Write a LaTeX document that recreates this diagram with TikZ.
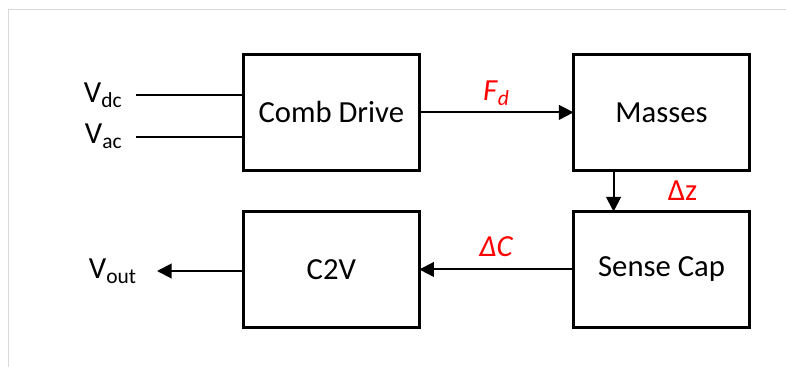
\documentclass[tikz,border=0pt]{standalone}
\usepackage{fontspec}
\setmainfont{Carlito}
\usetikzlibrary{arrows.meta,positioning}

\begin{document}
\begin{tikzpicture}[
    x=0.75pt, y=-0.75pt,
    node distance=115.7pt,
    box/.style={rectangle, draw, line width=2.4pt, minimum width=132pt, minimum height=86.8pt, outer sep=0pt, font=\fontsize{23}{27}\selectfont},
    sig/.style={inner xsep=10pt, inner ysep=0pt, font=\fontsize{23}{27}\selectfont},
    lbl/.style={text=red, inner sep=0pt, font=\fontsize{23}{27}\selectfont},
    wire/.style={line width=1.5pt},
    arrow/.style={-{Triangle[length=11pt, width=11pt]}, line width=1.5pt},
]
    \useasboundingbox (0,0) rectangle (786,367);
    \draw[black!15, line width=0.75pt] (8,367) -- (8,9.5) -- (786,9.5);

    \node[box] (CD) at (331.3,112.4) {Comb Drive};
    \node[box, right=of CD] (M) {Masses};
    \node[box, below=31pt of M] (S) {Sense Cap};
    \node[box, left=of S] (C) {C2V};

    \node[sig, anchor=east] (vdc) at (136,95) {V\textsubscript{dc}};
    \node[sig, anchor=east] (vac) at (136,136.7) {V\textsubscript{ac}};
    \node[sig, anchor=east, inner xsep=15pt] (vout) at (157,271) {V\textsubscript{out}};

    \draw[wire] (vdc.east) -- (vdc.east -| CD.west);
    \draw[wire] (vac.east) -- (vac.east -| CD.west);
    \draw[arrow] (CD) -- node[lbl, above=4pt] {\textit{F}\textsubscript{\textit{d}}} (M);
    \draw[arrow] ([xshift=-36pt]M.south) -- node[lbl, right=40pt] {Δz} ([xshift=-36pt]S.north);
    \draw[arrow] (S) -- node[lbl, above=9pt] {\textit{ΔC}} (C);
    \draw[arrow] (vout.east -| C.west) -- (vout.east);
\end{tikzpicture}
\end{document}
